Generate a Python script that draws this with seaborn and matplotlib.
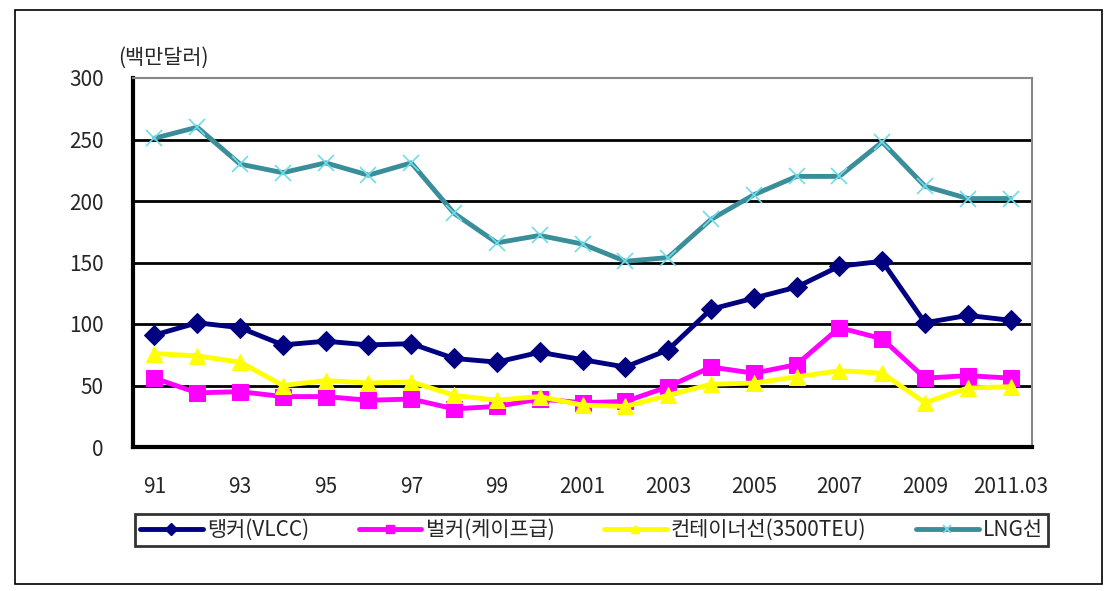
import numpy as np
import pandas as pd
import matplotlib
matplotlib.use("Agg")
import matplotlib.pyplot as plt
import seaborn as sns
from matplotlib.patches import Rectangle
from matplotlib.lines import Line2D

# data (million USD)
years = ["91", "92", "93", "94", "95", "96", "97", "98", "99", "2000",
         "2001", "2002", "2003", "2004", "2005", "2006", "2007", "2008",
         "2009", "2010", "2011.03"]
tanker = [91, 101, 97, 83, 86, 83, 84, 72, 69, 77, 71, 65, 79, 112, 121,
          130, 147, 151, 101, 107, 103]
bulker = [56, 44, 45, 41, 41, 38, 39, 31, 33, 39, 36, 37, 49, 65, 60, 67,
          97, 88, 56, 58, 56]
container = [76, 74, 69, 50, 54, 52, 53, 42, 38, 41, 34, 33, 42, 51, 52, 57,
             62, 60, 36, 48, 49]
lng = [251, 260, 230, 223, 231, 221, 231, 190, 166, 172, 165, 151, 154, 185,
       205, 220, 220, 248, 212, 202, 202]
series_names = ["탱커(VLCC)", "벌커(케이프급)", "컨테이너선(3500TEU)", "LNG선"]
label_years = ["91", "93", "95", "97", "99", "2001", "2003", "2005", "2007",
               "2009", "2011.03"]

sns.set_style("white")
plt.rcParams['font.family'] = ['Noto Sans CJK KR', 'DejaVu Sans']

df = pd.DataFrame({
    "idx": np.tile(np.arange(len(years)), 4),
    "value": tanker + bulker + container + lng,
    "series": np.repeat(series_names, len(years)),
})

styles = {
    "탱커(VLCC)": dict(color="#000080", marker="D", markersize=10,
                      markerfacecolor="#000080", markeredgecolor="#000080"),
    "벌커(케이프급)": dict(color="#ff00ff", marker="s", markersize=12,
                       markerfacecolor="#ff00ff", markeredgecolor="#ff00ff"),
    "컨테이너선(3500TEU)": dict(color="#ffff00", marker="^", markersize=12,
                           markerfacecolor="#ffff00", markeredgecolor="#ffff00"),
    "LNG선": dict(color="#3a8e9a", marker="x", markersize=12,
                 markerfacecolor="#6fdcea", markeredgecolor="#6fdcea",
                 markeredgewidth=1.2),
}

fig = plt.figure(figsize=(11.13, 5.91), dpi=100)
# outer frame
fig.patches.append(Rectangle((15 / 1113, 1 - 584 / 591), 1087 / 1113, 574 / 591,
                             transform=fig.transFigure, fill=False,
                             edgecolor="black", linewidth=1.2))

ax = fig.add_axes([133 / 1113, 1 - 447 / 591, 899 / 1113, 369 / 591])

for name in series_names:
    sub = df[df["series"] == name]
    sns.lineplot(data=sub, x="idx", y="value", ax=ax, linewidth=3.5,
                 zorder=3, legend=False, **styles[name])

# horizontal grid lines
for yv in [50, 100, 150, 200, 250]:
    ax.axhline(yv, color="black", linewidth=2, zorder=1)

ax.set_xlim(-0.5, len(years) - 0.5)
ax.set_ylim(0, 300)
ax.set_yticks([0, 50, 100, 150, 200, 250, 300])
ax.set_yticklabels(["0", "50", "100", "150", "200", "250", "300"], fontsize=15)
ax.tick_params(axis="y", length=0, pad=21)

# ticks on category boundaries, labels every other category
ax.set_xticks(np.arange(-0.5, len(years), 1))
ax.set_xticklabels([])
ax.tick_params(axis="x", which="major", direction="in", length=6, width=1.5)
ax.set_xticks([years.index(y) for y in label_years], minor=True)
ax.set_xticklabels(label_years, minor=True, fontsize=15)
ax.tick_params(axis="x", which="minor", length=0, pad=21)

ax.set_xlabel("")
ax.set_ylabel("")
ax.spines["left"].set_linewidth(3)
ax.spines["bottom"].set_linewidth(3)
ax.spines["left"].set_color("black")
ax.spines["bottom"].set_color("black")
ax.spines["top"].set_color("#888888")
ax.spines["right"].set_color("#888888")
ax.spines["top"].set_linewidth(1.5)
ax.spines["right"].set_linewidth(1.5)

fig.text(118 / 1113, 1 - 58 / 591, "(백만달러)", fontsize=15, va="center",
         ha="left")

# legend under the plot, with small markers
handles = []
for name in series_names:
    st = dict(styles[name])
    st["markersize"] = 6
    handles.append(Line2D([], [], linewidth=3.5, **st))
leg = fig.legend(handles, series_names, ncol=4, mode="expand", fontsize=15,
                 bbox_to_anchor=(135 / 1113, 1 - 546 / 591, 913 / 1113, 36 / 591),
                 loc="lower left", frameon=True, fancybox=False,
                 handlelength=3.0, handletextpad=0.2, borderaxespad=0,
                 borderpad=0.25)
leg.get_frame().set_edgecolor("black")
leg.get_frame().set_linewidth(2)

fig.savefig("out.png", dpi=100)
